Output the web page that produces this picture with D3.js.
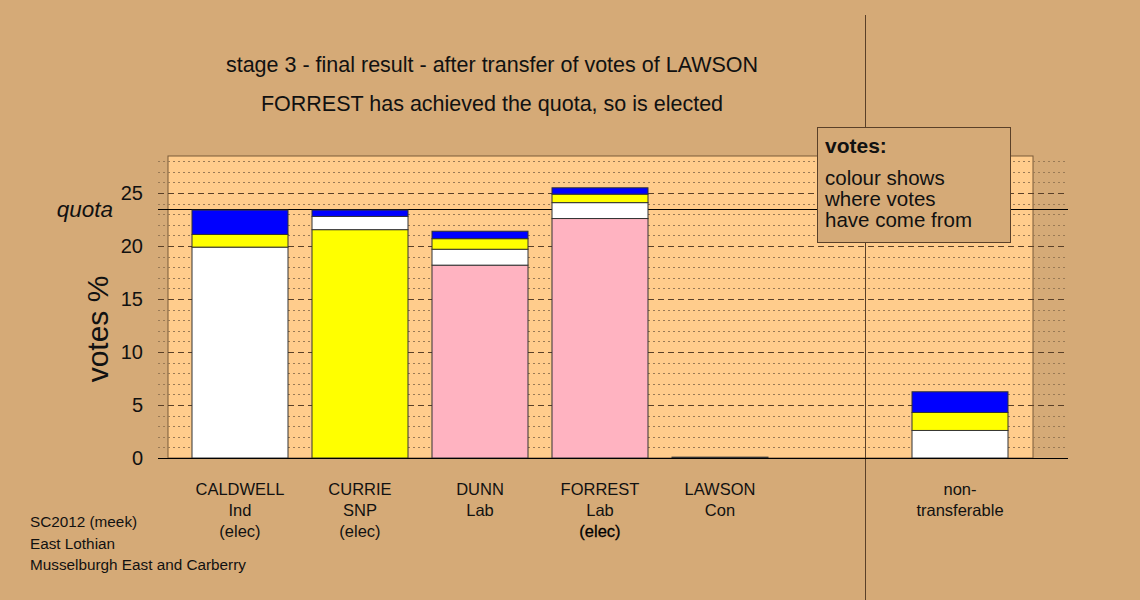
<!DOCTYPE html>
<html><head><meta charset="utf-8">
<script src="https://cdn.jsdelivr.net/npm/d3@7"></script>
<style>body{margin:0;background:#d5aa77}svg{display:block;font-family:"Liberation Sans",Arial,sans-serif}</style>
</head><body><svg id="c" width="1140" height="600"></svg>
<script>
const candidates = ["CALDWELL","CURRIE","DUNN","FORREST","LAWSON","","non-transferable"];
const labelLines = [["CALDWELL","Ind","(elec)"],["CURRIE","SNP","(elec)"],["DUNN","Lab"],["FORREST","Lab","(elec)"],["LAWSON","Con"],[],["non-","transferable"]];
const ownParty = ["Ind","SNP","Lab","Lab","Con",null,null];
// segment values per candidate: [own, Ind(white), SNP(yellow), Con(blue)]
const ownVotes   = [19.9, 21.55, 18.2, 22.6, 0.08, 0, 0];
const fromInd    = [0,    1.25,  1.5,  1.5,  0,    0, 2.6];
const fromSNP    = [1.2,  0,     1.0,  0.8,  0,    0, 1.7];
const fromCon    = [2.3,  0.6,   0.7,  0.6,  0,    0, 1.95];
const yTicks = [0,5,10,15,20,25];
const quota = 23.5;
const partyColour = {Ind:"#ffffff", SNP:"#ffff00", Lab:"#ffb3c1", Con:"#0000ff"};

const svg = d3.select("#c");
const x = d3.scaleBand().domain(d3.range(candidates.length)).range([180,1020]).paddingInner(0.2).paddingOuter(0.1);
const y = d3.scaleLinear().domain([0,28.5]).range([458,156]);

// plot background
svg.append("rect").attr("x",168).attr("y",y(28.5)).attr("width",1033-168).attr("height",y(0)-y(28.5))
  .attr("fill","#ffcc8c").attr("stroke","#7a5a38").attr("stroke-width",1);

// divider
svg.append("line").attr("x1",865.5).attr("x2",865.5).attr("y1",15).attr("y2",600).attr("stroke","#5a4028").attr("stroke-width",1);

// grid
const gridVals = d3.range(1,29);
svg.append("g").selectAll("line").data(gridVals).join("line")
  .attr("x1",158).attr("x2",1068)
  .attr("y1",d=>Math.round(y(d))+0.5).attr("y2",d=>Math.round(y(d))+0.5)
  .attr("stroke",d=>d%5===0?"#5a4028":"#9a7a55")
  .attr("stroke-width",1)
  .attr("stroke-dasharray",d=>d%5===0?"6,4":"2,3");

// quota line
svg.append("line").attr("x1",158).attr("x2",1068).attr("y1",Math.round(y(quota))+0.5).attr("y2",Math.round(y(quota))+0.5).attr("stroke","#000").attr("stroke-width",1.2);

// bars
candidates.forEach((c,i)=>{
  const segs = [];
  if (ownParty[i]) segs.push({v:ownVotes[i], col:partyColour[ownParty[i]]});
  if (fromInd[i]>0) segs.push({v:fromInd[i], col:partyColour.Ind});
  if (fromSNP[i]>0) segs.push({v:fromSNP[i], col:partyColour.SNP});
  if (fromCon[i]>0) segs.push({v:fromCon[i], col:partyColour.Con});
  let base = 0;
  segs.forEach(s=>{
    svg.append("rect").attr("x",x(i)).attr("width",x.bandwidth())
      .attr("y",y(base+s.v)).attr("height",y(base)-y(base+s.v))
      .attr("fill",s.col).attr("stroke","#333").attr("stroke-width",1);
    base += s.v;
  });
});

// baseline
svg.append("line").attr("x1",158).attr("x2",1068).attr("y1",458.5).attr("y2",458.5).attr("stroke","#000").attr("stroke-width",1.2);

// y ticks labels
svg.append("g").selectAll("text").data(yTicks).join("text")
  .attr("x",143).attr("y",d=>y(d)).attr("dy","0.36em").attr("text-anchor","end")
  .attr("font-size",20).attr("fill","#111").text(d=>d);
svg.append("text").attr("x",113).attr("y",y(quota)).attr("dy","0.36em").attr("text-anchor","end")
  .attr("font-size",22.5).attr("font-style","italic").attr("fill","#111").text("quota");
svg.append("text").attr("transform","translate(108,329) rotate(-90)").attr("text-anchor","middle")
  .attr("font-size",30).attr("fill","#111").text("votes %");

// x labels
labelLines.forEach((lines,i)=>{
  lines.forEach((t,j)=>{
    const bold = (i===3&&j===2);
    svg.append("text").attr("x",x(i)+x.bandwidth()/2).attr("y",495+j*21)
      .attr("text-anchor","middle").attr("font-size",16.5).attr("fill", bold?"#000":"#111")
      .attr("stroke",bold?"#000":"none").attr("stroke-width",bold?0.3:0).text(t);
  });
});

// titles
svg.append("text").attr("x",492).attr("y",72).attr("text-anchor","middle").attr("font-size",21.5).attr("fill","#111")
  .text("stage 3 - final result - after transfer of votes of LAWSON");
svg.append("text").attr("x",492).attr("y",111).attr("text-anchor","middle").attr("font-size",21.5).attr("fill","#111")
  .text("FORREST has achieved the quota, so is elected");

// legend box
svg.append("rect").attr("x",817.5).attr("y",127.5).attr("width",193).attr("height",115)
  .attr("fill","#d5aa77").attr("stroke","#5a4028").attr("stroke-width",1);
svg.append("text").attr("x",825).attr("y",153).attr("font-size",21).attr("font-weight","bold").attr("fill","#111").text("votes:");
["colour shows","where votes","have come from"].forEach((t,j)=>{
  svg.append("text").attr("x",825).attr("y",185+j*20.8).attr("font-size",20.5).attr("fill","#111").text(t);
});

// footer
["SC2012 (meek)","East Lothian","Musselburgh East and Carberry"].forEach((t,j)=>{
  svg.append("text").attr("x",30).attr("y",527+j*21.5).attr("font-size",15.3).attr("fill","#111").text(t);
});
</script></body></html>
